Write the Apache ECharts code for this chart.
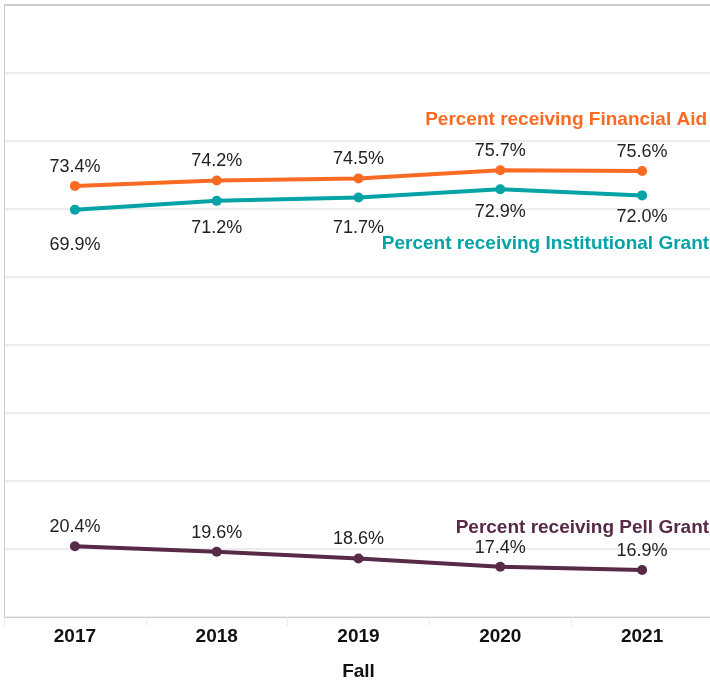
<!DOCTYPE html>
<html>
<head>
<meta charset="utf-8">
<script src="https://cdn.jsdelivr.net/npm/echarts@6/dist/echarts.min.js"></script>
<style>html,body{margin:0;padding:0;background:#fff}#c{width:710px;height:681px}</style>
</head>
<body>
<div id="c"></div>
<script>
const categories = ['2017', '2018', '2019', '2020', '2021'];
const financialAid = [73.4, 74.2, 74.5, 75.7, 75.6];
const institutionalGrant = [69.9, 71.2, 71.7, 72.9, 72.0];
const pellGrant = [20.4, 19.6, 18.6, 17.4, 16.9];
const seriesNames = ['Percent receiving Financial Aid', 'Percent receiving Institutional Grant', 'Percent receiving Pell Grant'];

const FONT = "'Liberation Sans', Arial, sans-serif";
const cOrange = '#f96b23', cTeal = '#05a3a6', cPurple = '#572a47';
const instDist = [21, 13, 17, 9, 8];

function nameMark(name, vals, color, offset) {
  const last = vals.length - 1;
  return {
    symbol: 'circle', symbolSize: 0, silent: true, animation: false,
    data: [{ coord: [categories[last], vals[last]] }],
    label: {
      show: true, position: 'inside', align: 'right', verticalAlign: 'middle',
      offset: offset, formatter: name, color: color,
      fontFamily: FONT, fontSize: 19, fontWeight: 'bold'
    }
  };
}
function lineSeries(name, vals, color, labelPos, nameOffset, dists) {
  return {
    name: name, type: 'line', symbol: 'circle', symbolSize: 10,
    lineStyle: { width: 4, color: color }, itemStyle: { color: color },
    data: vals.map((v, i) => dists ? { value: v, label: { distance: dists[i] } } : v),
    label: {
      show: true, position: labelPos, distance: 5,
      formatter: p => p.value.toFixed(1) + '%',
      color: '#222', fontFamily: FONT, fontSize: 18
    },
    markPoint: nameMark(name, vals, color, nameOffset),
    animation: false
  };
}

const chart = echarts.init(document.getElementById('c'));
const splitColors = ['#ececec','#ececec','#ececec','#ececec','#ececec','#ececec','#ececec','#ececec','#ececec','#cccccc'];
chart.setOption({
  backgroundColor: '#fff',
  grid: { left: 4, right: -3, top: 5, bottom: 64, outerBoundsMode: 'none', containLabel: false },
  xAxis: {
    type: 'category', data: categories, boundaryGap: true,
    axisLine: { show: true, lineStyle: { color: '#cccccc', width: 1 } },
    axisTick: { show: true, length: 9, lineStyle: { color: '#ebebeb' } },
    axisLabel: { color: '#111', fontFamily: FONT, fontSize: 19, fontWeight: 'bold', margin: 10 },
    name: 'Fall', nameLocation: 'middle', nameGap: 45,
    nameTextStyle: { color: '#111', fontFamily: FONT, fontSize: 19, fontWeight: 'bold' }
  },
  yAxis: {
    type: 'value', min: 10, max: 100, interval: 10,
    axisLine: { show: true, lineStyle: { color: '#cccccc' } },
    axisTick: { show: false }, axisLabel: { show: false },
    splitLine: { show: true, lineStyle: { color: splitColors, width: 2 } }
  },
  series: [
    lineSeries(seriesNames[0], financialAid, cOrange, 'top', [65, -51]),
    lineSeries(seriesNames[1], institutionalGrant, cTeal, 'bottom', [67, 48], instDist),
    lineSeries(seriesNames[2], pellGrant, cPurple, 'top', [67, -42])
  ]
});
</script>
</body>
</html>
